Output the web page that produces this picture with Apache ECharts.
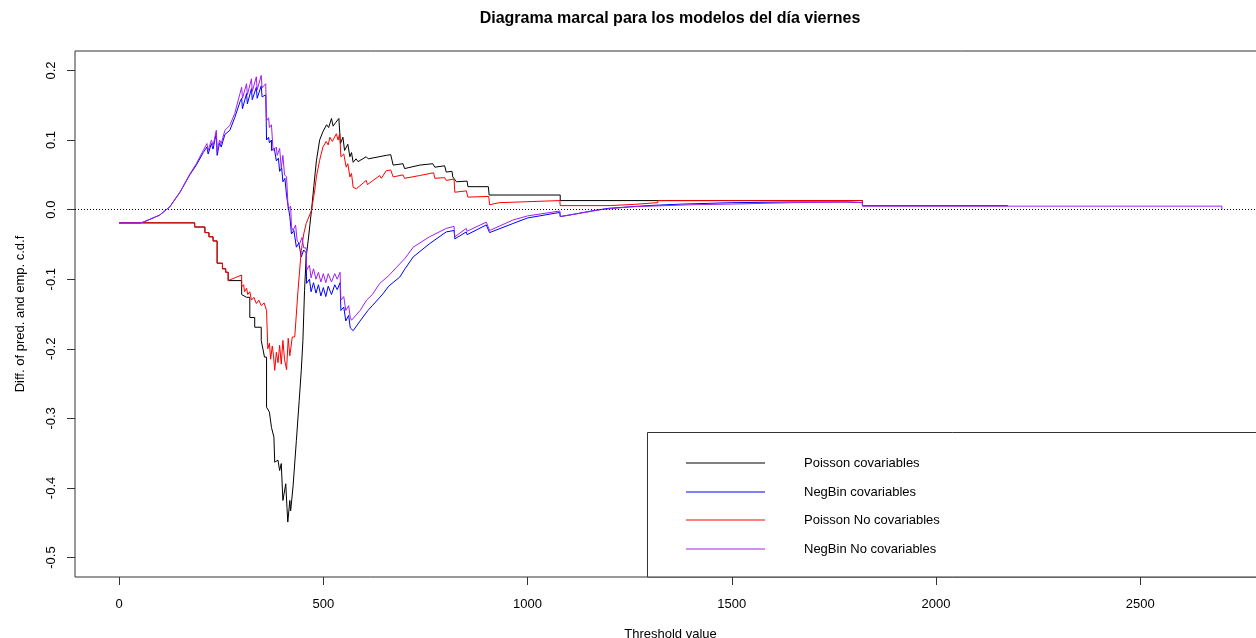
<!DOCTYPE html>
<html>
<head>
<meta charset="utf-8">
<title>Diagrama marcal</title>
<script src="https://cdn.jsdelivr.net/npm/echarts@6/dist/echarts.min.js"></script>
<style>
  html, body { margin: 0; padding: 0; background: #fff; }
  #chart { width: 1256px; height: 638px; }
</style>
</head>
<body>
<div id="chart"></div>
<script>
// Tick positions on each axis
const thresholdTicks = [0, 500, 1000, 1500, 2000, 2500];
const diffTicks = [-0.5, -0.4, -0.3, -0.2, -0.1, 0, 0.1, 0.2];

// Difference between predicted and empirical c.d.f, as [threshold, diff]
const poissonCov = [
  [0,-0.019],[185,-0.019],[185,-0.025],[210,-0.025],[210,-0.033],[220,-0.033],[220,-0.039],
  [230,-0.039],[230,-0.045],[240,-0.045],[240,-0.077],[253,-0.077],[253,-0.085],[261,-0.085],
  [261,-0.090],[267,-0.090],[267,-0.102],[300,-0.102],[300,-0.122],[312,-0.126],[320,-0.126],
  [320,-0.155],[332,-0.155],[332,-0.169],[348,-0.169],[348,-0.188],[356,-0.212],[361,-0.212],
  [361,-0.284],[368,-0.291],[373,-0.313],[379,-0.327],[381,-0.363],[389,-0.360],[393,-0.375],
  [397,-0.365],[401,-0.418],[408,-0.394],[411,-0.428],[413,-0.449],[418,-0.418],[420,-0.433],
  [426,-0.397],[434,-0.332],[441,-0.274],[446,-0.231],[450,-0.188],[454,-0.116],[458,-0.068],
  [463,-0.044],[471,-0.001],[477,0.035],[483,0.070],[491,0.100],[499,0.112],[508,0.122],
  [513,0.118],[520,0.131],[524,0.120],[530,0.125],[538,0.131],[542,0.095],[548,0.104],
  [552,0.085],[560,0.094],[565,0.076],[569,0.082],[573,0.068],[580,0.073],[585,0.069],
  [605,0.076],[610,0.073],[654,0.078],[665,0.079],[671,0.064],[695,0.066],[699,0.059],
  [736,0.064],[768,0.066],[773,0.061],[797,0.063],[801,0.054],[815,0.055],[817,0.047],
  [826,0.040],[852,0.041],[854,0.033],[904,0.033],[906,0.021],[1080,0.021],[1080,0.013],
  [1820,0.013],[1820,0.0058],[2175,0.0058]
];

const negbinCov = [
  [0,-0.019],[51,-0.019],[59,-0.018],[75,-0.014],[99,-0.008],[124,0.004],[149,0.025],
  [173,0.050],[189,0.064],[206,0.082],[215,0.090],[218,0.080],[226,0.095],[230,0.087],
  [238,0.110],[240,0.078],[246,0.096],[250,0.090],[259,0.108],[271,0.114],[283,0.132],
  [296,0.155],[300,0.160],[302,0.145],[312,0.167],[314,0.152],[324,0.174],[326,0.158],
  [336,0.176],[338,0.160],[348,0.178],[350,0.162],[359,0.165],[361,0.100],[366,0.104],
  [368,0.096],[373,0.100],[373,0.085],[380,0.088],[385,0.070],[390,0.074],[393,0.055],
  [398,0.060],[401,0.040],[406,0.045],[410,0.020],[414,0.022],[418,-0.010],[422,-0.035],
  [428,-0.030],[434,-0.054],[440,-0.048],[446,-0.068],[452,-0.058],[458,-0.062],[459,-0.106],
  [466,-0.100],[470,-0.118],[476,-0.105],[482,-0.120],[488,-0.108],[494,-0.124],[500,-0.112],
  [506,-0.125],[512,-0.110],[520,-0.122],[528,-0.108],[534,-0.115],[541,-0.105],[543,-0.145],
  [550,-0.140],[555,-0.160],[562,-0.152],[566,-0.170],[573,-0.174],[590,-0.160],[609,-0.145],
  [620,-0.138],[646,-0.121],[660,-0.110],[687,-0.097],[700,-0.085],[720,-0.068],[760,-0.049],
  [801,-0.032],[820,-0.030],[822,-0.042],[850,-0.032],[852,-0.036],[899,-0.022],[907,-0.033],
  [964,-0.020],[1000,-0.012],[1079,-0.004],[1080,-0.010],[1120,-0.006],[1165,-0.001],
  [1200,0.002],[1250,0.004],[1300,0.006],[1380,0.008],[1500,0.010],[1650,0.011],[1780,0.011],
  [1820,0.010],[1820,0.0058],[2175,0.0058]
];

const poissonNoCov = [
  [0,-0.019],[185,-0.019],[185,-0.025],[210,-0.025],[210,-0.033],[220,-0.033],[220,-0.039],
  [230,-0.039],[230,-0.045],[240,-0.045],[240,-0.077],[253,-0.077],[253,-0.085],[261,-0.085],
  [261,-0.090],[267,-0.090],[267,-0.102],[271,-0.102],[300,-0.094],[300,-0.111],[305,-0.108],
  [307,-0.118],[312,-0.113],[315,-0.122],[320,-0.118],[324,-0.130],[330,-0.126],[336,-0.135],
  [342,-0.130],[348,-0.138],[355,-0.134],[361,-0.145],[364,-0.200],[368,-0.192],[371,-0.215],
  [375,-0.196],[378,-0.210],[381,-0.231],[385,-0.205],[389,-0.220],[393,-0.195],[397,-0.222],
  [401,-0.188],[405,-0.215],[410,-0.230],[414,-0.185],[418,-0.210],[424,-0.183],[430,-0.183],
  [434,-0.150],[438,-0.116],[446,-0.059],[452,-0.035],[458,-0.020],[471,-0.001],[479,0.028],
  [483,0.047],[491,0.071],[499,0.090],[507,0.098],[512,0.093],[516,0.104],[522,0.098],
  [532,0.109],[536,0.100],[540,0.109],[543,0.076],[550,0.080],[556,0.061],[560,0.066],
  [565,0.047],[569,0.052],[573,0.032],[581,0.030],[605,0.042],[608,0.036],[638,0.049],
  [642,0.045],[654,0.056],[665,0.057],[671,0.047],[695,0.050],[699,0.045],[736,0.049],
  [770,0.053],[773,0.045],[797,0.046],[801,0.042],[820,0.044],[822,0.025],[850,0.027],
  [854,0.018],[905,0.019],[907,0.007],[931,0.010],[1079,0.013],[1080,0.0058],[1203,0.0058],
  [1203,0.0076],[1262,0.0076],[1262,0.0101],[1319,0.0101],[1319,0.013],[1820,0.013],
  [1820,0.0058],[2175,0.0058]
];

const negbinNoCov = [
  [0,-0.019],[51,-0.019],[59,-0.018],[75,-0.014],[99,-0.008],[124,0.004],[149,0.025],
  [173,0.051],[189,0.066],[206,0.085],[215,0.095],[218,0.085],[226,0.100],[230,0.092],
  [238,0.114],[240,0.083],[246,0.100],[250,0.095],[259,0.114],[271,0.121],[283,0.138],
  [296,0.167],[300,0.176],[302,0.160],[312,0.181],[314,0.165],[324,0.188],[326,0.170],
  [336,0.191],[338,0.172],[348,0.193],[350,0.175],[359,0.181],[361,0.128],[366,0.132],
  [368,0.118],[373,0.122],[377,0.085],[385,0.090],[387,0.078],[393,0.088],[397,0.060],
  [401,0.078],[405,0.050],[410,0.047],[414,0.000],[420,0.005],[422,-0.025],[426,-0.030],
  [432,-0.022],[436,-0.045],[442,-0.049],[448,-0.040],[452,-0.055],[458,-0.055],[459,-0.087],
  [466,-0.080],[470,-0.098],[476,-0.085],[482,-0.100],[488,-0.090],[494,-0.104],[500,-0.092],
  [506,-0.105],[512,-0.092],[520,-0.104],[528,-0.092],[534,-0.100],[541,-0.090],[543,-0.130],
  [550,-0.125],[555,-0.145],[562,-0.138],[566,-0.155],[569,-0.159],[590,-0.145],[606,-0.130],
  [620,-0.122],[638,-0.106],[660,-0.095],[679,-0.083],[700,-0.070],[720,-0.054],[760,-0.039],
  [801,-0.027],[820,-0.024],[822,-0.039],[850,-0.027],[852,-0.031],[899,-0.018],[907,-0.030],
  [964,-0.015],[1000,-0.009],[1079,-0.002],[1080,-0.010],[1120,-0.006],[1180,0.000],
  [1250,0.004],[1300,0.005],[1400,0.007],[1500,0.008],[1650,0.010],[1780,0.011],[1820,0.010],
  [1820,0.005],[2700,0.005],[2700,0]
];

const seriesNames = ['Poisson covariables', 'NegBin covariables', 'Poisson No covariables', 'NegBin No covariables'];
const seriesColors = ['#000000', '#0000ff', '#ff0000', '#a020f0'];
const seriesData = [poissonCov, negbinCov, poissonNoCov, negbinNoCov];

const FONT = '"Liberation Sans", Arial, sans-serif';

const chart = echarts.init(document.getElementById('chart'), null, { renderer: 'canvas' });

const series = seriesData.map((d, i) => ({
  name: seriesNames[i],
  type: 'line',
  data: d,
  symbol: 'none',
  showSymbol: false,
  smooth: false,
  animation: false,
  color: seriesColors[i],
  lineStyle: { color: seriesColors[i], width: 1 },
  itemStyle: { color: seriesColors[i] },
  emphasis: { disabled: true },
  z: 2 + i * 0.01
}));

// Dotted reference line at zero
series[0].markLine = {
  silent: true,
  symbol: ['none', 'none'],
  label: { show: false },
  lineStyle: { color: '#000', width: 1, type: [1, 2] },
  data: [{ yAxis: 0 }]
};

// Legend box in the lower right: a framed panel with a line sample and name per series
const legendBox = { x: 647.5, y: 432.5, w: 700, h: 144.5 };
const legendRow0 = 463, legendRowStep = 28.7;
const legendGraphics = [
  {
    type: 'rect', z: 5,
    shape: { x: legendBox.x, y: legendBox.y, width: legendBox.w, height: legendBox.h },
    style: { fill: '#fff', stroke: '#333', lineWidth: 1 }
  }
];
seriesNames.forEach((name, i) => {
  const y = Math.round(legendRow0 + i * legendRowStep);
  legendGraphics.push({
    type: 'line', z: 6,
    shape: { x1: 686, y1: y, x2: 765, y2: y },
    style: { stroke: seriesColors[i], lineWidth: 1 }
  });
  legendGraphics.push({
    type: 'text', z: 6,
    x: 804, y: y,
    style: {
      text: name,
      font: '13px ' + FONT,
      fill: '#000',
      textAlign: 'left',
      textVerticalAlign: 'middle'
    }
  });
});

chart.setOption({
  animation: false,
  backgroundColor: '#fff',
  textStyle: { fontFamily: FONT },
  grid: {
    left: 75, top: 51, width: 1191, height: 526,
    show: true, borderColor: '#333', borderWidth: 1, backgroundColor: 'transparent',
    containLabel: false,
    outerBoundsMode: 'none'
  },
  xAxis: {
    type: 'value',
    min: -108, max: 2808,
    name: 'Threshold value',
    nameLocation: 'middle',
    nameGap: 51,
    nameTextStyle: { fontSize: 13, color: '#000', fontFamily: FONT },
    axisLine: { show: false, onZero: false },
    axisTick: { show: true, inside: false, length: 8, lineStyle: { color: '#333' }, customValues: thresholdTicks },
    axisLabel: {
      show: true, fontSize: 13, color: '#000', margin: 21, fontFamily: FONT,
      customValues: thresholdTicks,
      formatter: v => String(v)
    },
    splitLine: { show: false }
  },
  yAxis: {
    type: 'value',
    min: -0.528, max: 0.228,
    name: 'Diff. of pred. and emp. c.d.f',
    nameLocation: 'middle',
    nameRotate: 90,
    nameGap: 48,
    nameTextStyle: { fontSize: 13, color: '#000', fontFamily: FONT },
    axisLine: { show: false, onZero: false },
    axisTick: { show: true, inside: false, length: 8, lineStyle: { color: '#333' }, customValues: diffTicks },
    axisLabel: {
      show: true, fontSize: 13, color: '#000', margin: 17, rotate: 90, fontFamily: FONT,
      customValues: diffTicks,
      formatter: v => v.toFixed(1)
    },
    splitLine: { show: false }
  },
  graphic: legendGraphics.concat([
    {
      type: 'text', z: 5,
      x: 670, y: 19,
      style: {
        text: 'Diagrama marcal para los modelos del día viernes',
        font: 'bold 16px ' + FONT,
        fill: '#000',
        textAlign: 'center',
        textVerticalAlign: 'middle'
      }
    }
  ]),
  series: series
});
</script>
</body>
</html>
